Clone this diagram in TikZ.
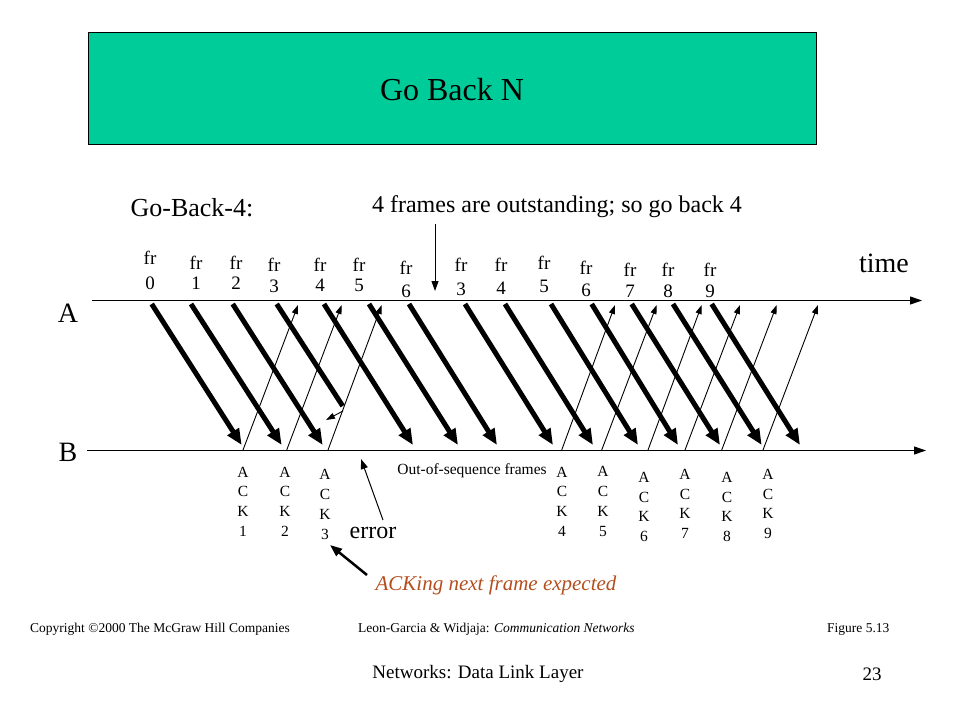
\documentclass[tikz,border=0pt]{standalone}
\usepackage{fontspec}
\setmainfont{Liberation Serif}
\usetikzlibrary{arrows.meta}
\definecolor{titlegreen}{RGB}{0,204,153}
\definecolor{ackbrown}{RGB}{181,78,30}
\tikzset{
  frame/.style={line width=5pt,-{Triangle[length=16pt,width=13pt]}},
  lostframe/.style={line width=5pt},
  ackarrow/.style={line width=0.9pt,-{Triangle[length=9pt,width=6pt]}},
  thinarrow/.style={line width=1pt,-{Triangle[length=10pt,width=7pt]}},
  timeline/.style={line width=1pt,-{Triangle[length=12pt,width=8pt]}},
  frlabel/.style={inner sep=0pt,font=\fontsize{19}{20}\selectfont},
  acklabel/.style={inner sep=0pt,align=center,font=\fontsize{15.5}{19.7}\selectfont},
  footer/.style={inner sep=0pt,font=\fontsize{13.5}{16}\selectfont},
}
\begin{document}
\begin{tikzpicture}[x=1pt,y=-1pt]
\useasboundingbox (0,0) rectangle (960,720);
% title box
\node[draw=black,line width=1pt,fill=titlegreen,minimum width=728.5pt,minimum height=112pt,inner sep=0pt] (title) at (452.5,88.2) {};
\node[inner sep=0pt,font=\fontsize{32}{38}\selectfont] (titletext) at (452,90) {Go Back N};
% headings
\node[inner sep=0pt,font=\fontsize{26}{30}\selectfont] (gb4) at (192,208) {Go-Back-4:};
\node[inner sep=0pt,font=\fontsize{24}{28}\selectfont] (outst) at (557,207) {4 frames are outstanding; so go back 4};
\coordinate (outsttail) at (435,224);
\coordinate (outsthead) at (435,291);
\draw[thinarrow] (outsttail) -- (outsthead);
\node[inner sep=0pt,font=\fontsize{28}{32}\selectfont] (time) at (884,263) {time};
\node[inner sep=0pt,font=\fontsize{28}{32}\selectfont] (A) at (68,313) {A};
\node[inner sep=0pt,font=\fontsize{28}{32}\selectfont] (B) at (68,452) {B};
% time lines
\coordinate (Astart) at (92,300.5);
\coordinate (Aend) at (922,300.5);
\coordinate (Bstart) at (87,450.5);
\coordinate (Bend) at (926,450.5);
\draw[timeline] (Astart) -- (Aend);
\draw[timeline] (Bstart) -- (Bend);
% frame labels
\foreach \k/\x/\yf/\yd/\n in {0/150/258/283/0,1/196/263/283/1,2/236/263/283/2,3/274/265/286/3,
  4/320/265/285/4,5/359/265/285/5,6/406/268/291/6,7/461/265/289/3,8/501/265/288/4,
  9/544/263/286/5,10/586/268/290/6,11/630/270/291/7,12/668/270/291/8,13/710/270/291/9}{
  \node[frlabel] (frt\k) at (\x,\yf) {fr};
  \node[frlabel] (frn\k) at (\x,\yd) {\n};
}
% frames (thick)
\foreach \k/\sx/\ex in {0/151.7/241.7,1/191/281.7,2/232.7/322.7,4/324/413,5/369/458,6/409/497,
  7/465/553,8/505/593,9/551/638,10/591.7/678,11/631.7/720,12/673/761.7,13/711.7/800}{
  \coordinate (fs\k) at (\sx,304);
  \coordinate (fe\k) at (\ex,445);
  \draw[frame] (fs\k) -- (fe\k);
}
% lost frame 3
\coordinate (fs3) at (276.7,304);
\coordinate (fe3) at (342.7,406);
\draw[lostframe] (fs3) -- (fe3);
\coordinate (losttail) at (343,411);
\coordinate (losthead) at (326,420);
\draw[ackarrow] (losttail) -- (losthead);
% ACKs (thin)
\foreach \k/\sx/\ex in {1/243/298,2/286.7/341.7,3/328/381.7,4/561.7/615,5/601.7/656.7,
  6/648/701.7,7/685/740,8/721.7/776.7,9/763/818}{
  \coordinate (as\k) at (\sx,450);
  \coordinate (ae\k) at (\ex,305);
  \draw[ackarrow] (as\k) -- (ae\k);
}
% ACK labels
\foreach \k/\x/\y in {1/243/501.5,2/285/501.5,3/325/504.5,4/562/501.5,5/603/501.5,
  6/644/507,7/685/504,8/727/507,9/768/504}{
  \node[acklabel] (ackl\k) at (\x,\y) {A\\C\\K\\\k};
}
\node[inner sep=0pt,font=\fontsize{15.5}{18}\selectfont] (oos) at (472,471) {Out-of-sequence frames};
\node[inner sep=0pt,font=\fontsize{24}{28}\selectfont] (error) at (373,533) {error};
\coordinate (errtail) at (383,520);
\coordinate (errhead) at (361,459);
\draw[thinarrow] (errtail) -- (errhead);
\node[inner sep=0pt,text=ackbrown,font=\fontsize{21}{25}\selectfont\itshape] (acking) at (496,585) {ACKing next frame expected};
\coordinate (ackingtail) at (367,575);
\coordinate (ackinghead) at (330,545);
\draw[line width=2.5pt,-{Triangle[length=12pt,width=9pt]}] (ackingtail) -- (ackinghead);
% footer
\node[footer,anchor=west] (copy) at (30,629) {Copyright \textcopyright2000 The McGraw Hill Companies};
\node[footer,anchor=west] (book) at (358,629) {Leon-Garcia \& Widjaja: \textit{Communication Networks}};
\node[footer,anchor=west] (fig) at (827,629) {Figure 5.13};
\node[inner sep=0pt,font=\fontsize{19}{22}\selectfont] (slide) at (478,674) {Networks: Data Link Layer};
\node[inner sep=0pt,font=\fontsize{19}{22}\selectfont] (pnum) at (872,674) {23};
\end{tikzpicture}
\end{document}
